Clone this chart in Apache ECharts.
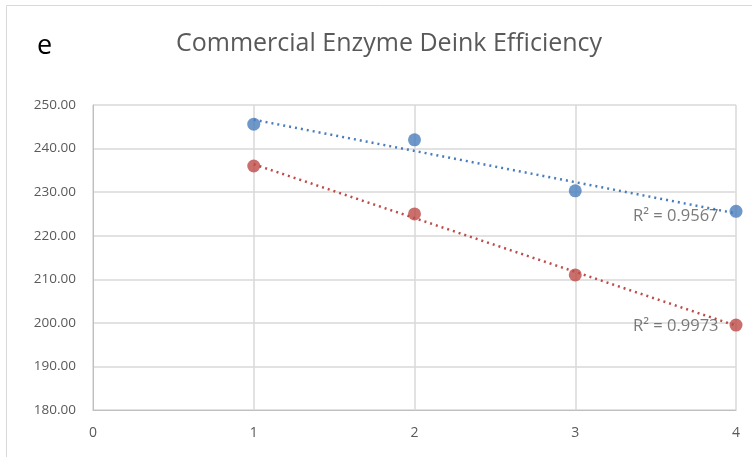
<!DOCTYPE html>
<html><head><meta charset="utf-8">
<script src="https://cdn.jsdelivr.net/npm/echarts@6/dist/echarts.min.js"></script>
<style>html,body{margin:0;padding:0;background:#fff}#c{width:752px;height:457px}</style>
</head><body><div id="c"></div>
<script>
const xValues = [1, 2, 3, 4];
const blueValues = [245.6, 242.0, 230.3, 225.6];
const redValues = [236.0, 225.0, 211.0, 199.5];
const r2Labels = ['R² = 0.9567', 'R² = 0.9973'];
const titleText = 'Commercial Enzyme Deink Efficiency';
const panelLetter = 'e';

function fit(xs, ys) {
  const n = xs.length;
  const mx = xs.reduce((a, b) => a + b, 0) / n;
  const my = ys.reduce((a, b) => a + b, 0) / n;
  let sxy = 0, sxx = 0;
  for (let i = 0; i < n; i++) { sxy += (xs[i] - mx) * (ys[i] - my); sxx += (xs[i] - mx) ** 2; }
  const b = sxy / sxx, a = my - b * mx;
  return [[xs[0], a + b * xs[0]], [xs[n - 1], a + b * xs[n - 1]]];
}
const blue = '#4a7ebb', red = '#be4b48';
const font = 'Open Sans';
const blueFit = fit(xValues, blueValues), redFit = fit(xValues, redValues);
function r2Series(pt, text, off) {
  return { type: 'scatter', data: [pt], symbolSize: 1, itemStyle: { color: 'rgba(0,0,0,0)' }, z: 4, silent: true,
    label: { show: true, formatter: text, position: 'left', distance: 0, offset: off, color: '#595959', fontFamily: font, fontSize: 16.5 } };
}
const chart = echarts.init(document.getElementById('c'));
chart.setOption({
  animation: false,
  title: { text: titleText, left: 171, top: 26, textStyle: { fontFamily: font, fontSize: 25, fontWeight: 'normal', color: '#595959' } },
  graphic: [
    { type: 'rect', shape: { x: 6.5, y: 5.5, width: 760, height: 460 }, style: { fill: 'none', stroke: '#d9d9d9', lineWidth: 1 } },
    { type: 'text', left: 37, top: 33, style: { text: panelLetter, font: '27px "Open Sans"', fill: '#000' } }
  ],
  grid: { left: 93, right: 16, top: 105, bottom: 47 },
  xAxis: { type: 'value', min: 0, max: 4, interval: 1,
    axisLine: { lineStyle: { color: '#bfbfbf' } }, axisTick: { show: false },
    splitLine: { lineStyle: { color: '#d9d9d9', width: 1.5 } },
    axisLabel: { color: '#595959', fontFamily: font, fontSize: 14, margin: 16 } },
  yAxis: { type: 'value', min: 180, max: 250, interval: 10,
    axisLine: { show: true, lineStyle: { color: '#bfbfbf' } }, axisTick: { show: false },
    splitLine: { lineStyle: { color: '#d9d9d9', width: 1.5 } },
    axisLabel: { color: '#595959', fontFamily: font, fontSize: 13.5, margin: 17, formatter: v => v.toFixed(2) } },
  series: [
    { type: 'line', data: blueFit, showSymbol: false, lineStyle: { color: blue, width: 2.5, type: [2, 4] }, z: 2 },
    { type: 'line', data: redFit, showSymbol: false, lineStyle: { color: red, width: 2.5, type: [2, 4] }, z: 2 },
    { type: 'scatter', data: xValues.map((x, i) => [x, blueValues[i]]), symbolSize: 13, itemStyle: { color: blue }, z: 3 },
    { type: 'scatter', data: xValues.map((x, i) => [x, redValues[i]]), symbolSize: 13, itemStyle: { color: red }, z: 3 },
    r2Series(blueFit[1], r2Labels[0], [-17, 3]),
    r2Series(redFit[1], r2Labels[1], [-17, 1])
  ]
});
</script></body></html>
